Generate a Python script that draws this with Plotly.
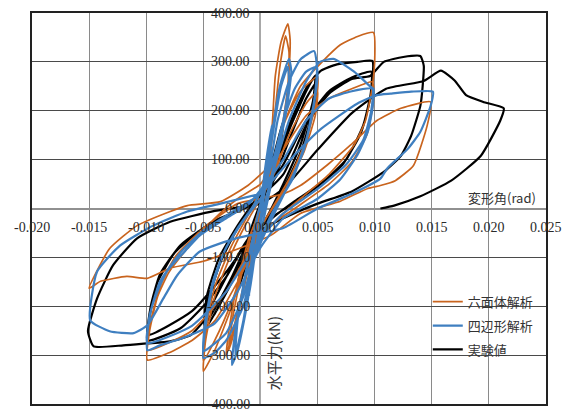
import plotly.graph_objects as go

# ---------------- data (deformation angle [rad], horizontal force [kN]) ----------------
x_ticks = [-0.020, -0.015, -0.010, -0.005, 0.000, 0.005, 0.010, 0.015, 0.020, 0.025]
x_tick_labels = ["-0.020", "-0.015", "-0.010", "-0.005", "0.000", "0.005", "0.010", "0.015", "0.020", "0.025"]
y_ticks = [400, 300, 200, 100, 0, -100, -200, -300, -400]
y_tick_labels = ["400.00", "300.00", "200.00", "100.00", "0.00", "-100.00", "-200.00", "-300.00", "-400.00"]

series_names = ["六面体解析", "四辺形解析", "実験値"]

# 実験値 (experiment)
exp_pts = [
    (0, 0), (0.0004, 50), (0.001, 110), (0.0008, 70), (0.0002, 10), (-0.0004, -50), (-0.001, -105), (-0.0008, -65), (-0.0002, -10),
    (0.0005, 40), (0.0012, 110), (0.002, 180), (0.0017, 120), (0.0008, 40), (0, -20), (-0.0008, -80), (-0.002, -170), (-0.0017, -115), (-0.0008, -40), (0, 10),
    (0.001, 60), (0.0025, 160), (0.004, 240), (0.0048, 272), (0.0046, 220), (0.0035, 130), (0.002, 50), (0.0005, -20), (-0.001, -70), (-0.0025, -150), (-0.004, -215), (-0.0048, -245), (-0.0046, -190), (-0.0035, -110), (-0.002, -40), (-0.0005, 10),
    (0.001, 50), (0.0025, 140), (0.004, 225), (0.0049, 258), (0.0047, 210), (0.0036, 120), (0.002, 40), (0.0005, -25), (-0.001, -65), (-0.0025, -140), (-0.004, -205), (-0.0049, -238), (-0.0047, -180), (-0.0036, -100), (-0.002, -35), (-0.0005, 15),
    (0.001, 60), (0.0025, 170), (0.0041, 250), (0.0053, 282), (0.0067, 295), (0.0085, 300), (0.0098, 302), (0.0097, 240), (0.009, 170), (0.0075, 100), (0.0055, 55), (0.003, 15), (0.001, -20), (-0.001, -60), (-0.003, -140), (-0.005, -200), (-0.007, -245), (-0.0099, -270), (-0.0097, -220), (-0.009, -150), (-0.0075, -90), (-0.005, -40), (-0.002, -5), (0, 20),
    (0.002, 90), (0.004, 180), (0.006, 240), (0.008, 268), (0.0097, 280), (0.0096, 225), (0.0088, 155), (0.0072, 90), (0.005, 45), (0.0025, 5), (0, -35), (-0.003, -130), (-0.006, -210), (-0.0098, -258), (-0.0096, -200), (-0.0088, -135), (-0.007, -75), (-0.004, -25), (-0.001, 5),
    (0.002, 70), (0.004, 170), (0.006, 235), (0.008, 265), (0.0096, 271), (0.0108, 300), (0.0125, 310), (0.014, 312), (0.0143, 292), (0.0142, 250), (0.014, 210), (0.0132, 149), (0.0123, 108), (0.0108, 75), (0.008, 35), (0.005, 10), (0.002, -20), (-0.001, -60), (-0.0041, -190), (-0.005, -231), (-0.0061, -259), (-0.0079, -272), (-0.0099, -276), (-0.012, -280), (-0.0146, -282), (-0.0151, -251), (-0.0143, -184), (-0.0129, -116), (-0.0108, -61), (-0.0079, -27), (-0.004, -5), (0, 10),
    (0.002, 40), (0.005, 120), (0.008, 195), (0.011, 245), (0.0143, 261), (0.0158, 282), (0.017, 262), (0.018, 232), (0.0195, 218), (0.0213, 205), (0.021, 180), (0.0193, 108), (0.0167, 57), (0.014, 25), (0.0117, 6), (0.0105, 0),
]

# 六面体解析 (hexahedral analysis)
hex_pts = [
    (0, 0), (0.0005, 80), (0.001, 150), (0.0008, 90), (0.0002, 20), (-0.0004, -60), (-0.001, -160), (-0.0008, -100), (-0.0002, -20),
    (0.0004, 40), (0.001, 160), (0.0013, 271), (0.0018, 340), (0.0024, 378), (0.0026, 345), (0.0025, 280), (0.0022, 200), (0.0015, 100), (0.0005, 20), (-0.0005, -60), (-0.0015, -160), (-0.0025, -260), (-0.003, -300), (-0.0027, -240), (-0.002, -150), (-0.001, -60), (0, 0),
    (0.0005, 50), (0.0012, 180), (0.0017, 290), (0.0022, 353), (0.0025, 320), (0.0024, 250), (0.0018, 150), (0.0008, 40), (-0.0005, -60), (-0.0015, -170), (-0.0025, -270), (-0.0028, -290), (-0.0024, -220), (-0.0015, -120), (-0.0005, -30),
    (0.001, 80), (0.002, 170), (0.0035, 240), (0.005, 270), (0.0049, 220), (0.004, 140), (0.0025, 60), (0.001, 0), (-0.001, -80), (-0.0025, -200), (-0.004, -290), (-0.005, -333), (-0.0048, -270), (-0.004, -180), (-0.0025, -90), (-0.001, -20), (0.0005, 40),
    (0.001, 60), (0.0025, 150), (0.004, 215), (0.005, 240), (0.0048, 190), (0.0038, 115), (0.0022, 40), (0.0005, -20), (-0.001, -90), (-0.0025, -190), (-0.004, -270), (-0.005, -312), (-0.0048, -250), (-0.004, -160), (-0.0025, -75), (-0.001, -10),
    (0.001, 80), (0.002, 170), (0.0035, 250), (0.0054, 300), (0.007, 335), (0.0085, 352), (0.0099, 360), (0.01, 300), (0.0098, 250), (0.0092, 180), (0.0082, 130), (0.006, 70), (0.004, 30), (0.002, -10), (0, -60), (-0.002, -150), (-0.004, -230), (-0.006, -270), (-0.008, -295), (-0.0099, -310), (-0.0097, -250), (-0.009, -180), (-0.008, -130), (-0.006, -70), (-0.004, -20), (-0.002, 20), (0, 50),
    (0.002, 120), (0.004, 190), (0.006, 225), (0.008, 245), (0.0098, 259), (0.0099, 220), (0.0093, 150), (0.008, 95), (0.006, 50), (0.003, 0), (0, -50), (-0.003, -170), (-0.006, -250), (-0.0099, -290), (-0.0096, -230), (-0.0088, -160), (-0.0075, -100), (-0.005, -40), (-0.002, 10), (0, 20),
    (0.002, 30), (0.0035, 47), (0.0059, 90), (0.0079, 130), (0.0102, 180), (0.0123, 205), (0.0149, 218), (0.0146, 170), (0.0134, 88), (0.0118, 57), (0.0105, 47), (0.0094, 41), (0.007, 15), (0.0035, -10), (0.0009, -55), (-0.0035, -96), (-0.005, -108), (-0.0079, -122), (-0.0099, -143), (-0.0117, -139), (-0.014, -149), (-0.015, -163), (-0.0132, -82), (-0.0108, -35), (-0.0079, -6), (-0.0064, 6), (-0.0035, 14), (-0.0011, 47), (0.0005, 80),
]

# 四辺形解析 (quadrilateral analysis)
quad_pts = [
    (0, 0), (0.0004, 80), (0.001, 170), (0.0008, 100), (0.0002, 10), (-0.0004, -80), (-0.001, -180), (-0.0008, -110), (-0.0002, -10), (0, 0),
    (0.0005, 60), (0.001, 150), (0.0017, 250), (0.0025, 306), (0.0027, 280), (0.0022, 190), (0.0012, 80), (0.0003, -20), (-0.0005, -100), (-0.0012, -200), (-0.002, -290), (-0.0025, -320), (-0.0022, -250), (-0.0014, -150), (-0.0005, -40), (0.0002, 30),
    (0.0005, 70), (0.0012, 170), (0.0018, 250), (0.0024, 290), (0.0025, 260), (0.002, 180), (0.001, 70), (0, -30), (-0.0008, -130), (-0.0015, -230), (-0.0022, -300), (-0.002, -230), (-0.0012, -120), (-0.0003, -20),
    (0.0008, 80), (0.0015, 180), (0.0025, 260), (0.0035, 305), (0.0047, 322), (0.005, 271), (0.0046, 200), (0.0038, 120), (0.0025, 50), (0.001, -20), (-0.0005, -100), (-0.0015, -200), (-0.003, -270), (-0.004, -295), (-0.005, -306), (-0.0048, -240), (-0.0042, -160), (-0.0032, -90), (-0.002, -40), (-0.0005, 10),
    (0.001, 90), (0.002, 180), (0.003, 245), (0.004, 280), (0.0049, 290), (0.0047, 220), (0.004, 140), (0.0028, 60), (0.001, -10), (-0.0005, -90), (-0.0015, -180), (-0.003, -255), (-0.0045, -285), (-0.005, -292), (-0.0048, -225), (-0.0041, -145), (-0.003, -80), (-0.0015, -25), (0, 20),
    (0.001, 70), (0.0025, 180), (0.004, 260), (0.0052, 300), (0.0064, 306), (0.0082, 280), (0.0096, 250), (0.0099, 245), (0.0098, 204), (0.0094, 157), (0.0085, 110), (0.007, 60), (0.005, 20), (0.002, -20), (0, -80), (-0.002, -170), (-0.004, -235), (-0.0068, -265), (-0.0088, -280), (-0.0099, -290), (-0.0097, -218), (-0.009, -169), (-0.0082, -129), (-0.0064, -82), (-0.0053, -55), (-0.003, -20), (-0.001, 10),
    (0.002, 100), (0.004, 180), (0.006, 225), (0.008, 240), (0.0098, 245), (0.0097, 200), (0.009, 140), (0.0075, 90), (0.005, 40), (0.002, -10), (0, -60), (-0.003, -170), (-0.006, -240), (-0.0099, -275), (-0.0096, -210), (-0.0088, -150), (-0.007, -90), (-0.005, -45), (-0.002, 0), (0, 30),
    (0.003, 110), (0.0053, 163), (0.0085, 215), (0.0102, 232), (0.0114, 235), (0.0132, 239), (0.0151, 239), (0.0149, 210), (0.014, 157), (0.0129, 122), (0.0111, 82), (0.0105, 61), (0.008, 30), (0.005, 0), (0.002, -40), (-0.002, -60), (-0.0053, -88), (-0.0073, -137), (-0.0085, -184), (-0.0099, -239), (-0.0111, -255), (-0.0132, -251), (-0.0149, -229), (-0.0143, -129), (-0.0123, -76), (-0.0094, -35), (-0.0064, -6), (-0.0035, 10), (0, 30),
]

# ---------------- figure ----------------
ORANGE = "#C9641E"
BLUE = "#3F7FC0"
BLACK = "#000000"
NUM_FONT = dict(family="Liberation Serif", size=14, color="#2a2a2a")
JP_FONT = "Noto Sans CJK JP"

fig = go.Figure()

traces = [
    (series_names[2], exp_pts, BLACK, 2.2, 3),
    (series_names[0], hex_pts, ORANGE, 1.7, 1),
    (series_names[1], quad_pts, BLUE, 2.2, 2),
]
for name, pts, color, width, rank in traces:
    fig.add_trace(go.Scatter(
        x=[p[0] for p in pts], y=[p[1] for p in pts],
        mode="lines", name=name, legendrank=rank, legendgroup=name,
        line=dict(color=color, width=width, shape="spline", smoothing=0.5),
    ))

annotations = []
for xv, lab in zip(x_ticks, x_tick_labels):
    annotations.append(dict(x=xv, y=0, xref="x", yref="y", text=lab, showarrow=False,
                            xanchor="center", yanchor="middle", yshift=-19, font=NUM_FONT))
for yv, lab in zip(y_ticks, y_tick_labels):
    annotations.append(dict(x=0, y=yv, xref="x", yref="y", text=lab, showarrow=False,
                            xanchor="right", yanchor="middle", xshift=-8, font=NUM_FONT))
annotations.append(dict(x=0.914, y=0.529, xref="paper", yref="paper", text="変形角(rad)",
                        showarrow=False, xanchor="center", yanchor="middle",
                        font=dict(family=JP_FONT, size=13, color="#333333")))
annotations.append(dict(x=0.469, y=0.13, xref="paper", yref="paper", text="水平力(kN)",
                        showarrow=False, xanchor="center", yanchor="middle", textangle=-90,
                        font=dict(family=JP_FONT, size=15, color="#333333")))

fig.update_layout(
    width=568, height=409,
    margin=dict(l=32, r=22, t=13, b=5),
    paper_bgcolor="white", plot_bgcolor="white",
    showlegend=True,
    legend=dict(x=0.77, y=0.30, xanchor="left", yanchor="top",
                bgcolor="rgba(0,0,0,0)", tracegroupgap=4,
                font=dict(family=JP_FONT, size=13, color="#333333")),
    annotations=annotations,
)
fig.update_xaxes(range=[-0.020, 0.025], tickvals=x_ticks, showticklabels=False, ticks="",
                 showgrid=True, gridcolor="#8a8a8a", gridwidth=1,
                 zeroline=True, zerolinecolor="#a8a8a8", zerolinewidth=1.5,
                 showline=True, linecolor="#222222", linewidth=1.5, mirror=True)
fig.update_yaxes(range=[-400, 400], tickvals=y_ticks, showticklabels=False, ticks="",
                 showgrid=True, gridcolor="#4a4a4a", gridwidth=1,
                 zeroline=True, zerolinecolor="#909090", zerolinewidth=1.5,
                 showline=True, linecolor="#222222", linewidth=1.5, mirror=True)

fig.write_html("out.html", config={"displayModeBar": False},
               post_script="document.body.style.margin='0px';")
